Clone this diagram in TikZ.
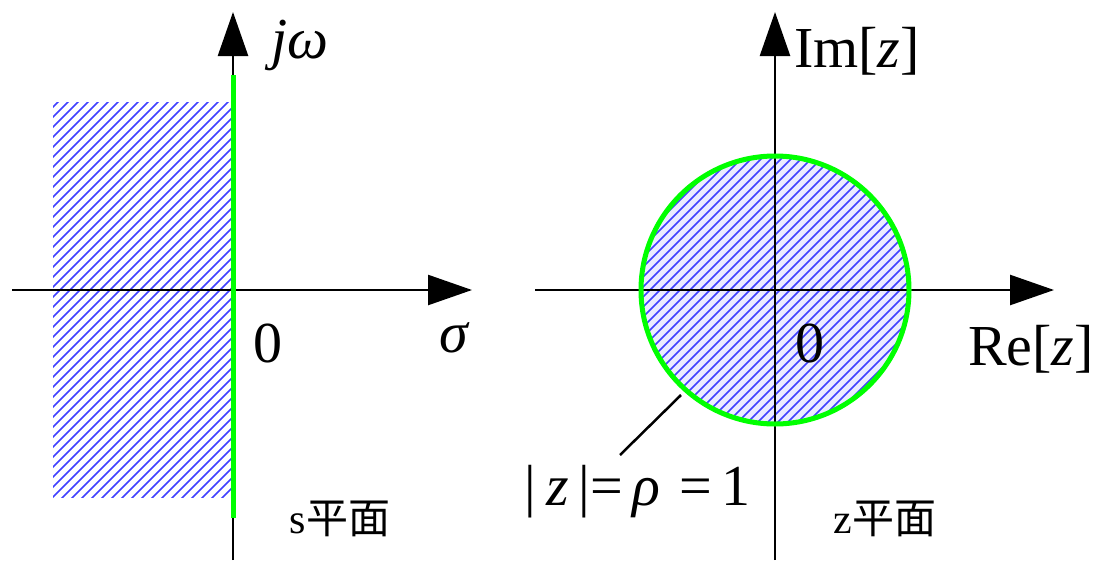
\documentclass[tikz,border=0pt]{standalone}
\usepackage{fontspec}
\setmainfont{Liberation Serif}
\newfontfamily\cjkfont{Noto Sans CJK SC}
\usetikzlibrary{arrows.meta}

\begin{document}
\begin{tikzpicture}[
        x=1pt, y=-1pt,
        axis/.style={line width=2.5pt, -{Triangle[length=44pt, width=30pt]}},
        unitline/.style={draw=green, line width=5pt},
        hatch/.style={draw=blue!75!white, line width=1.6pt},
        lbl/.style={anchor=base, inner sep=0pt, font=\fontsize{58}{60}\selectfont},
        cjk/.style={lbl, font=\fontsize{42}{46}\selectfont}
    ]
    \useasboundingbox (0,0) rectangle (1095,560);

    %% s plane: hatched left half plane
    \begin{scope}
        \clip (53,102) rectangle (233,497);
        \foreach \k in {-600,-590,...,200}
            \draw[hatch] (\k,560) -- (\k+560,0);
    \end{scope}
    \draw[axis] (12,290) -- (472,290);
    \draw[axis] (233,560) -- (233,12);
    \draw[unitline] (233,75) -- (233,518);

    \node[lbl] (jw)    at (300,58)  {\textit{jω}};
    \node[lbl] (szero) at (268,362) {0};
    \node[lbl] (sigma) at (455,352) {\textit{σ}};
    \node[cjk] (splane) at (340,533) {s{\cjkfont 平面}};

    %% z plane: hatched unit disc
    \coordinate (zc) at (775,290);
    \fill[blue!8] (zc) circle[radius=135];
    \begin{scope}
        \clip (zc) circle[radius=135];
        \foreach \k in {300,310,...,1250}
            \draw[hatch] (\k,560) -- (\k+560,0);
    \end{scope}
    \draw[axis] (535,290) -- (1054,290);
    \draw[axis] (775,560) -- (775,12);
    \draw[unitline] (zc) circle[radius=134];

    \coordinate (rimpt) at (681,395);
    \coordinate (leadend) at (620,455);
    \draw[line width=2.5pt] (rimpt) -- (leadend);

    \node[lbl] (imz)   at (857,67)  {Im[\textit{z}]};
    \node[lbl] (rez)   at (1031,365) {Re[\textit{z}]};
    \node[lbl] (zzero) at (810,362) {0};
    \node[lbl] (rho)   at (638,505) {|\,\textit{z}\,|=\,\textit{ρ}\,\,=\,1};
    \node[cjk] (zplane) at (885,533) {z{\cjkfont 平面}};
\end{tikzpicture}
\end{document}
